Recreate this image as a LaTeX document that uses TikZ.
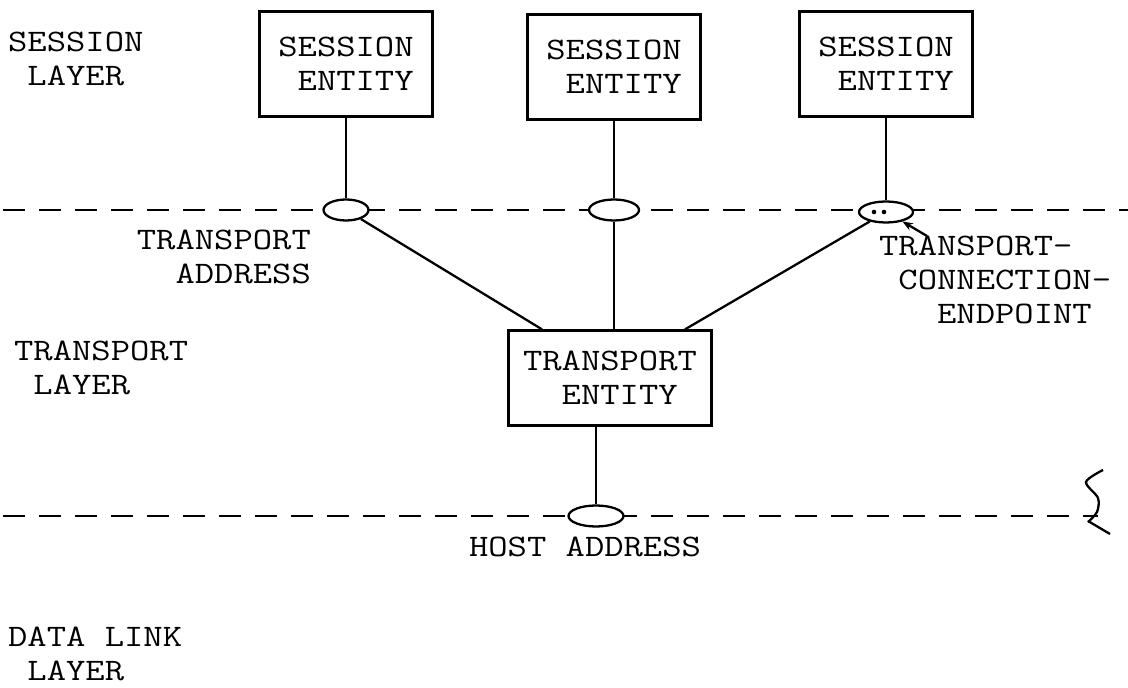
\documentclass[tikz,border=0pt]{standalone}
\usepackage{fontspec}
\usetikzlibrary{shapes.geometric,arrows.meta}
\newfontfamily\typew[FakeStretch=1.2]{Latin Modern Mono}

\begin{document}
\begin{tikzpicture}[x=0.02cm,y=-0.02cm,line width=1.3pt,
  txt/.style={font=\typew\fontsize{17.8}{19.5}\selectfont,align=left,inner sep=0pt},
  box/.style={txt,draw,rectangle,minimum width=3.46cm,minimum height=2.1cm},
  sap/.style={draw,ellipse,fill=white,inner sep=0pt,minimum width=0.9cm,minimum height=0.42cm},
  layer/.style={dash pattern=on 0.44cm off 0.28cm}]
\useasboundingbox (0,0) rectangle (1128,688);
\draw[layer] (3,210) -- (1128,210);
\draw[layer] (3,516) -- (1098,516);
\node[txt,anchor=west] (L1) at (7,59) {SESSION\\~LAYER};
\node[txt,anchor=west] (L2) at (13,368) {TRANSPORT\\~LAYER};
\node[txt,anchor=west] (L3) at (7,654) {DATA LINK\\~LAYER};
\node[box] (S1) at (346,64) {SESSION\\~ENTITY};
\node[box] (S2) at (614,67) {SESSION\\~ENTITY};
\node[box] (S3) at (886,64) {SESSION\\~ENTITY};
\node[box,minimum width=4.06cm,minimum height=1.9cm] (T) at (610,378) {TRANSPORT\\~~ENTITY};
\node[sap] (A1) at (346,210) {};
\node[sap,minimum width=1.0cm] (A2) at (614,210) {};
\node[sap,minimum width=1.08cm] (A3) at (886,212) {};
\node[sap,minimum width=1.1cm] (H) at (596,516) {};
\fill (A3) ++(-12,0) circle (1.3pt) ++(10,0) circle (1.3pt);
\node[txt,anchor=east] (TA) at (312,257) {TRANSPORT\\~~ADDRESS};
\node[txt,anchor=west] (TC) at (878,280) {TRANSPORT-\\~CONNECTION-\\~~~ENDPOINT};
\node[txt] (HA) at (585,547) {HOST ADDRESS};
\draw (S1) -- (A1);
\draw (S2) -- (A2);
\draw (S3) -- (A3);
\draw (A1) -- ([xshift=-1.36cm]T.north);
\draw (A2) -- (A2 |- T.north);
\draw (A3) -- ([xshift=1.5cm]T.north);
\draw (T.south -| H) -- (H);
\coordinate (tip) at (927,236);
\draw[-{Stealth[length=6pt]}] (tip) -- (A3.-30);
\draw plot[smooth] coordinates {(1103,470) (1086,482) (1098,498) (1097,512) (1088,522)};
\draw (1088,521) -- (1110,534);
\end{tikzpicture}
\end{document}
